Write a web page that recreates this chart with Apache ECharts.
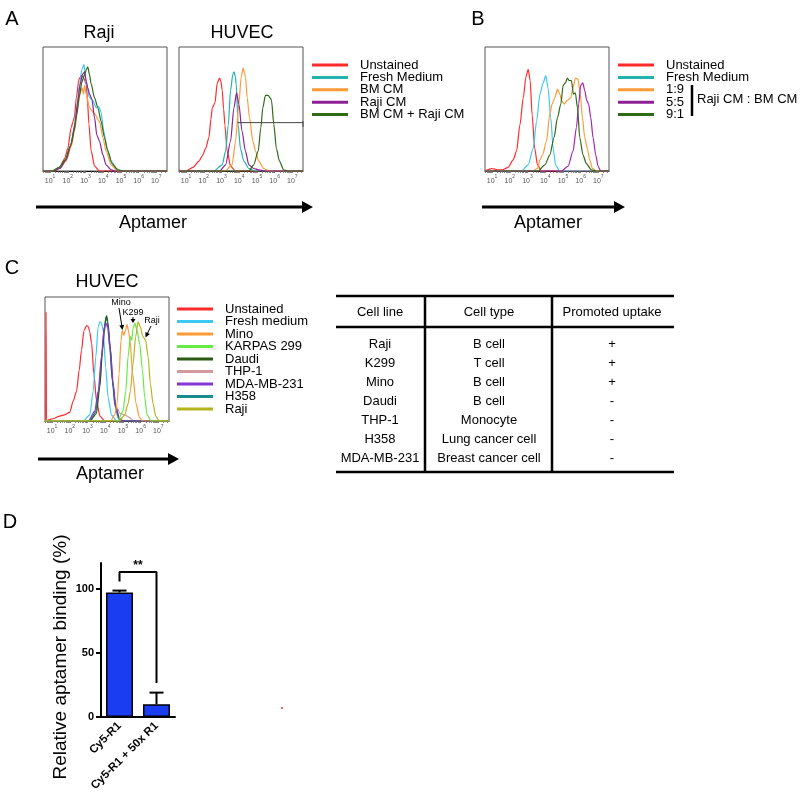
<!DOCTYPE html>
<html lang="en">
<head>
<meta charset="UTF-8">
<title>Aptamer uptake in HUVEC</title>
<script src="https://cdn.jsdelivr.net/npm/echarts@6/dist/echarts.min.js"></script>
<style>
  html, body { margin: 0; padding: 0; background: #fff; }
  #chart { width: 800px; height: 797px; }
</style>
</head>
<body>
<div id="chart"></div>
<script>
// ---------- data ----------
// histograms: [log10 fluorescence, % of max]
const decades = [1, 2, 3, 4, 5, 6, 7];

// A, Raji
const legendA = ['Unstained', 'Fresh Medium', 'BM CM', 'Raji CM', 'BM CM + Raji CM'];
const rajiUnstained = [[0.6,0],[1.25,0],[1.55,3],[1.82,10],[2.0,18],[2.19,35],[2.3,40],[2.38,44],[2.48,59],[2.63,74],[2.76,77],[2.9,75],[3.04,70],[3.12,55],[3.19,38],[3.32,16],[3.51,4],[3.79,0],[7.6,0]];
const rajiFresh = [[0.6,0],[1.15,0],[1.5,2],[1.85,8],[2.15,20],[2.35,34],[2.5,50],[2.65,68],[2.8,82],[2.91,86],[3.04,70],[3.23,59],[3.41,57],[3.6,51],[3.75,52],[3.88,47],[4.03,32],[4.22,18],[4.45,8],[4.73,2],[5.0,0],[7.6,0]];
const rajiBm = [[0.6,0],[1.2,0],[1.55,2],[1.9,8],[2.2,20],[2.4,34],[2.55,50],[2.68,62],[2.81,67],[2.88,62],[2.95,69],[3.04,62],[3.23,51],[3.51,46],[3.79,40],[3.98,27],[4.16,16],[4.45,5],[4.8,0],[7.6,0]];
const rajiRaji = [[0.6,0],[1.2,0],[1.55,2],[1.9,9],[2.2,22],[2.4,38],[2.55,55],[2.7,70],[2.83,78],[2.95,80],[3.05,72],[3.13,67],[3.23,62],[3.36,58],[3.51,43],[3.64,29],[3.79,24],[3.98,13],[4.16,5],[4.45,1],[4.63,0],[7.6,0]];
const rajiMix = [[0.6,0],[1.1,0],[1.5,3],[1.85,9],[2.15,20],[2.35,32],[2.5,45],[2.65,60],[2.8,72],[2.95,78],[3.05,82],[3.13,84],[3.22,78],[3.32,70],[3.51,59],[3.7,51],[3.88,40],[4.07,27],[4.26,16],[4.5,6],[4.82,1],[5.1,0],[7.6,0]];

// A, HUVEC
const huvecUnstained = [[0.6,0],[0.97,0],[1.4,3],[1.73,8],[1.91,12],[2.1,18],[2.29,27],[2.4,42],[2.48,51],[2.63,55],[2.76,71],[2.89,75],[2.97,72],[3.04,65],[3.12,50],[3.19,37],[3.32,16],[3.51,4],[3.79,0],[7.6,0]];
const huvecFresh = [[0.6,0],[2.57,0],[3.04,5],[3.23,16],[3.38,37],[3.51,65],[3.64,78],[3.71,80],[3.78,76],[3.83,70],[3.94,37],[4.07,18],[4.26,8],[4.54,2],[4.9,0],[7.6,0]];
const huvecBm = [[0.6,0],[3.2,0],[3.6,5],[3.79,24],[3.98,54],[4.11,76],[4.22,83],[4.3,79],[4.35,76],[4.45,59],[4.58,43],[4.77,24],[4.92,16],[5.1,8],[5.38,2],[5.67,0],[7.6,0]];
const huvecRaji = [[0.6,0],[2.9,0],[3.23,5],[3.51,24],[3.7,51],[3.85,63],[3.98,54],[4.16,32],[4.35,16],[4.54,5],[4.82,2],[5.1,1],[5.4,0],[7.6,0]];
const huvecMix = [[0.6,0],[4.54,0],[4.82,5],[5.07,16],[5.22,35],[5.33,51],[5.48,61],[5.63,61],[5.75,59],[5.82,57],[5.95,38],[6.1,18],[6.27,8],[6.51,1],[6.7,0],[7.6,0]];
const huvecGate = [3.9, 7.6, 39];

// B
const legendB = ['Unstained', 'Fresh Medium', '1:9', '5:5', '9:1'];
const ratioLabel = 'Raji CM : BM CM';
const bUnstained = [[0.6,0],[0.75,1],[0.98,2],[1.3,1],[1.6,1],[1.91,3],[2.19,9],[2.38,16],[2.57,37],[2.76,59],[2.91,76],[3.04,82],[3.15,73],[3.26,45],[3.41,18],[3.56,5],[3.79,0],[7.6,0]];
const bFresh = [[0.6,0],[2.66,0],[3.04,5],[3.32,18],[3.51,40],[3.7,62],[3.88,71],[4.03,77],[4.16,67],[4.31,43],[4.45,18],[4.58,5],[4.82,0],[7.6,0]];
const b19 = [[0.6,0],[3.3,0],[3.56,2],[3.7,9],[3.85,13],[4.07,24],[4.26,46],[4.39,54],[4.54,59],[4.69,66],[4.82,62],[4.92,57],[5.07,54],[5.25,57],[5.44,59],[5.57,67],[5.7,75],[5.85,74],[5.98,62],[6.1,43],[6.23,27],[6.38,18],[6.51,9],[6.66,2],[6.89,0],[7.6,0]];
const b55 = [[0.6,0],[4.92,0],[5.29,4],[5.57,16],[5.76,35],[5.89,54],[6.0,69],[6.12,71],[6.23,65],[6.34,57],[6.45,54],[6.57,43],[6.7,27],[6.85,13],[6.98,4],[7.13,0],[7.6,0]];
const b91 = [[0.6,0],[3.6,0],[3.98,5],[4.26,13],[4.5,27],[4.69,43],[4.88,54],[5.01,69],[5.14,71],[5.25,75],[5.35,73],[5.48,73],[5.59,62],[5.7,63],[5.82,51],[5.95,27],[6.13,13],[6.32,6],[6.6,1],[6.89,0],[7.6,0]];

// C
const legendC = ['Unstained', 'Fresh medium', 'Mino', 'KARPAS 299', 'Daudi', 'THP-1', 'MDA-MB-231', 'H358', 'Raji'];
const cUnstained = [[0.6,0],[0.64,0],[0.66,88],[0.68,0],[0.8,1],[1.07,2],[1.44,4],[1.7,5],[2.0,7],[2.19,16],[2.38,24],[2.53,41],[2.66,57],[2.8,73],[2.95,77],[3.05,76],[3.12,72],[3.23,63],[3.36,38],[3.51,16],[3.7,4],[3.98,0],[7.6,0]];
const cFresh = [[0.6,0],[2.76,0],[3.13,5],[3.32,24],[3.47,52],[3.6,76],[3.7,80],[3.79,79],[3.88,73],[4.03,43],[4.16,19],[4.35,5],[4.63,0],[7.6,0]];
const cMino = [[0.6,0],[4.3,0],[4.54,5],[4.67,14],[4.78,38],[4.89,65],[4.96,73],[5.05,69],[5.12,72],[5.23,78],[5.32,72],[5.4,65],[5.55,38],[5.74,14],[5.93,3],[6.1,0],[7.6,0]];
const cKarpas = [[0.6,0],[4.7,0],[5.0,8],[5.16,24],[5.29,52],[5.42,68],[5.5,65],[5.56,74],[5.67,79],[5.8,73],[5.95,62],[6.1,41],[6.23,19],[6.36,5],[6.6,0],[7.6,0]];
const cDaudi = [[0.6,0],[3.15,0],[3.5,6],[3.7,28],[3.85,58],[3.98,78],[4.08,85],[4.15,80],[4.28,60],[4.42,32],[4.58,12],[4.8,2],[5.0,0],[7.6,0]];
const cThp1 = [[0.6,0],[3.1,0],[3.45,7],[3.65,25],[3.82,52],[3.95,72],[4.05,78],[4.15,74],[4.28,55],[4.42,30],[4.6,12],[4.85,6],[5.1,5],[5.35,3],[5.6,0],[7.6,0]];
const cMda = [[0.6,0],[3.05,0],[3.41,8],[3.6,24],[3.79,52],[3.92,73],[4.03,79],[4.16,76],[4.3,57],[4.45,30],[4.6,11],[4.82,1],[5.0,0],[7.6,0]];
const cH358 = [[0.6,0],[3.1,0],[3.45,7],[3.65,26],[3.82,55],[3.95,76],[4.05,84],[4.12,80],[4.25,60],[4.4,33],[4.55,12],[4.75,2],[5.0,0],[7.6,0]];
const cRaji = [[0.6,0],[4.8,0],[5.1,5],[5.29,14],[5.42,24],[5.57,46],[5.72,68],[5.85,80],[5.98,76],[6.13,68],[6.28,65],[6.42,52],[6.55,30],[6.7,14],[6.85,4],[7.04,0],[7.6,0]];
const cNotes = ['Mino', 'K299', 'Raji'];

// table
const tableHeader = ['Cell line', 'Cell type', 'Promoted uptake'];
const cellLines = ['Raji', 'K299', 'Mino', 'Daudi', 'THP-1', 'H358', 'MDA-MB-231'];
const cellTypes = ['B cell', 'T cell', 'B cell', 'B cell', 'Monocyte', 'Lung cancer cell', 'Breast cancer cell'];
const uptake = ['+', '+', '+', '-', '-', '-', '-'];

// D
const dCategories = ['Cy5-R1', 'Cy5-R1 + 50x R1'];
const dMeans = [97, 10];
const dErrors = [1.5, 9];
const dTicks = [0, 50, 100];
const sigBracket = [105.5, 113, 26.5];   // left leg foot, bar height, right leg foot
const sigLabel = '**';

// ---------- styles ----------
const FONT = '"Liberation Sans", Arial, sans-serif';
const RED = '#ff2b2b', TEAL = '#22b3ad', SKY = '#3cc8f4', ORANGE = '#ff9a36',
      PURPLE = '#8e2096', DKGREEN = '#2f6a17';
const coloursA = [RED, TEAL, ORANGE, PURPLE, DKGREEN];
const coloursC = [RED, SKY, ORANGE, '#66ea44', '#2c5a12', '#d29c9c', '#8534d8', '#178d8c', '#b4b41e'];

const histGrids = [
  { left: 43, top: 47 },   // A Raji
  { left: 179, top: 47 },  // A HUVEC
  { left: 485, top: 47 },  // B
  { left: 45, top: 297 }   // C
];
const panels = [
  [rajiUnstained, rajiFresh, rajiBm, rajiRaji, rajiMix],
  [huvecUnstained, huvecFresh, huvecBm, huvecRaji, huvecMix],
  [bUnstained, bFresh, b19, b55, b91],
  [cUnstained, cFresh, cThp1, cH358, cDaudi, cMda, cMino, cKarpas, cRaji]
];
const panelColours = [
  [RED, SKY, ORANGE, PURPLE, DKGREEN],
  coloursA,
  [RED, SKY, ORANGE, '#a224b0', DKGREEN],
  [coloursC[0], coloursC[1], coloursC[5], coloursC[7], coloursC[4], coloursC[6], coloursC[2], coloursC[3], coloursC[8]]
];

// minor log ticks for the flow axes
const logTicks = [];
for (let d = 0; d <= 7; d++) {
  for (let m = 1; m <= 9; m++) {
    const v = d + Math.log10(m);
    if (v >= 0.6 && v <= 7.6) logTicks.push(+v.toFixed(3));
  }
}

const chart = echarts.init(document.getElementById('chart'));

const grid = [], xAxis = [], yAxis = [], series = [];
histGrids.forEach((g, i) => {
  grid.push({ left: g.left, top: g.top, width: 124, height: 124, show: true,
    borderColor: '#555', borderWidth: 1, backgroundColor: 'transparent', outerBoundsMode: 'none' });
  xAxis.push({
    type: 'value', gridIndex: i, min: 0.6, max: 7.6,
    axisLine: { show: true, lineStyle: { color: '#111', width: 1 } },
    axisTick: { show: true, customValues: logTicks, length: 2, lineStyle: { color: '#666', width: 0.8 } },
    axisLabel: {
      customValues: decades, margin: 3,
      formatter: v => '{b|10}{s|' + v + '}',
      rich: {
        b: { fontSize: 7, lineHeight: 11, verticalAlign: 'bottom', color: '#555', fontFamily: FONT },
        s: { fontSize: 5, lineHeight: 6, verticalAlign: 'top', color: '#555', fontFamily: FONT }
      }
    },
    splitLine: { show: false }
  });
  yAxis.push({ type: 'value', gridIndex: i, min: 0, max: 100, show: false, splitLine: { show: false } });
  panels[i].forEach((curve, k) => {
    series.push({
      type: 'line', xAxisIndex: i, yAxisIndex: i, data: curve,
      symbol: 'none', smooth: 0.25, smoothMonotone: 'x', silent: true,
      lineStyle: { color: panelColours[i][k], width: 1.2 }
    });
  });
});

// gate in A HUVEC
series.push({
  type: 'line', xAxisIndex: 1, yAxisIndex: 1, symbol: 'none', silent: true,
  data: [[huvecGate[0], huvecGate[2]], [huvecGate[1], huvecGate[2]]],
  lineStyle: { color: '#444', width: 1 }
});

// D bar chart
grid.push({ left: 101, top: 563, width: 74, height: 154, outerBoundsMode: 'none' });
xAxis.push({
  type: 'category', gridIndex: 4, data: dCategories,
  axisLine: { lineStyle: { color: '#000', width: 2 } },
  axisTick: { alignWithLabel: true, length: 5, lineStyle: { color: '#000', width: 2 } },
  axisLabel: { rotate: 45, interval: 0, margin: 7, fontSize: 11.5, fontWeight: 'bold', color: '#000', fontFamily: FONT }
});
yAxis.push({
  type: 'value', gridIndex: 4, min: 0, max: 120,
  axisLine: { show: true, lineStyle: { color: '#000', width: 2 } },
  axisTick: { show: true, customValues: dTicks, length: 5, lineStyle: { color: '#000', width: 2 } },
  axisLabel: { customValues: dTicks, margin: 7, fontSize: 11, fontWeight: 'bold', color: '#000', fontFamily: FONT },
  splitLine: { show: false },
  name: 'Relative aptamer binding (%)', nameLocation: 'middle', nameRotate: 90, nameGap: 31,
  nameTextStyle: { fontSize: 19, color: '#000', fontFamily: FONT, padding: [0, 34, 0, 0] }
});
series.push({
  type: 'bar', xAxisIndex: 4, yAxisIndex: 4, data: dMeans, barWidth: 27, silent: true,
  itemStyle: { color: '#1b3df2', borderColor: '#000', borderWidth: 1.5 }
});
series.push({
  type: 'custom', xAxisIndex: 4, yAxisIndex: 4, silent: true, z: 5,
  data: dMeans.map((m, i) => [i, m, m + dErrors[i]]),
  renderItem: (params, api) => {
    const a = api.coord([api.value(0), api.value(1)]);
    const b = api.coord([api.value(0), api.value(2)]);
    return { type: 'group', children: [
      { type: 'line', shape: { x1: a[0], y1: a[1], x2: b[0], y2: b[1] }, style: { stroke: '#000', lineWidth: 2 } },
      { type: 'line', shape: { x1: b[0] - 7, y1: b[1], x2: b[0] + 7, y2: b[1] }, style: { stroke: '#000', lineWidth: 2 } }
    ]};
  }
});
series.push({
  type: 'line', xAxisIndex: 4, yAxisIndex: 4, symbol: 'none', silent: true,
  data: [[0, sigBracket[0]], [0, sigBracket[1]], [1, sigBracket[1]], [1, sigBracket[2]]],
  lineStyle: { color: '#000', width: 2 }
});

// ---------- annotations drawn as graphic ----------
const g = [];
function text(x, y, s, size, extra) {
  g.push({ type: 'text', x: x, y: y, silent: true, style: Object.assign({
    text: s, fill: '#000', fontSize: size, fontFamily: FONT,
    align: 'center', verticalAlign: 'middle', textAlign: 'center', textVerticalAlign: 'middle'
  }, extra || {}) });
}
function seg(x1, y1, x2, y2, w, c) {
  g.push({ type: 'line', silent: true, shape: { x1, y1, x2, y2 }, style: { stroke: c || '#000', lineWidth: w } });
}
function arrow(x1, y1, x2, y2, w, len, half) {
  const dx = x2 - x1, dy = y2 - y1, L = Math.hypot(dx, dy), ux = dx / L, uy = dy / L;
  const bx = x2 - ux * len, by = y2 - uy * len;
  seg(x1, y1, bx + ux, by + uy, w);
  g.push({ type: 'polygon', silent: true, shape: { points: [[x2, y2], [bx - uy * half, by + ux * half], [bx + uy * half, by - ux * half]] }, style: { fill: '#000' } });
}
function legend(names, colours, x, y0, step) {
  names.forEach((n, i) => {
    seg(x, y0 + i * step, x + 36, y0 + i * step, 3, colours[i]);
    text(x + 48, y0 + i * step, n, 13, { align: 'left', textAlign: 'left' });
  });
}

// panel letters and titles
text(12, 19, 'A', 20); text(478, 19, 'B', 20); text(12, 268, 'C', 20); text(10, 522, 'D', 20);
text(99, 33, 'Raji', 18); text(242, 33, 'HUVEC', 18); text(107, 282, 'HUVEC', 18);

// gate end tick
seg(303, 36 + 85, 303, 42 + 85, 1, '#444');

// legends
legend(legendA, coloursA, 312, 65, 12.4);
legend(legendB, coloursA, 618, 65, 12.4);
seg(692, 85, 692, 116, 2.5);
text(697, 99, ratioLabel, 13, { align: 'left', textAlign: 'left' });
legend(legendC, coloursC, 177, 309, 12.5);

// Aptamer arrows
arrow(36, 207, 313, 207, 3, 11, 6); text(153, 223, 'Aptamer', 18);
arrow(482, 207, 625, 207, 3, 11, 6); text(548, 223, 'Aptamer', 18);
arrow(38, 459, 179, 459, 3, 11, 6); text(110, 474, 'Aptamer', 18);

// C peak notes
text(121, 303, cNotes[0], 9); arrow(119, 308, 122.5, 330, 1, 5, 2.5);
text(133, 313, cNotes[1], 9); arrow(133, 317, 133, 323, 1, 4, 2.5);
text(152, 321, cNotes[2], 9); arrow(151, 326, 145.5, 337.5, 1, 5, 2.5);

// table
const colX = [380, 489, 612];
seg(336, 296, 674, 296, 2.5); seg(336, 327, 674, 327, 2.5); seg(336, 472, 674, 472, 2.5);
seg(425, 296, 425, 472, 2.5); seg(552, 296, 552, 472, 2.5);
tableHeader.forEach((h, j) => text(colX[j], 312, h, 13));
cellLines.forEach((c, i) => {
  const y = 344 + i * 19;
  text(colX[0], y, c, 13); text(colX[1], y, cellTypes[i], 13); text(colX[2], y, uptake[i], 13);
});

// D significance and stray dot
text(138, 566, sigLabel, 12, { fontWeight: 'bold' });
g.push({ type: 'circle', silent: true, shape: { cx: 282, cy: 708, r: 1 }, style: { fill: '#e33' } });

chart.setOption({
  animation: false,
  backgroundColor: '#fff',
  textStyle: { fontFamily: FONT },
  grid: grid, xAxis: xAxis, yAxis: yAxis, series: series,
  graphic: { elements: g }
});
</script>
</body>
</html>
